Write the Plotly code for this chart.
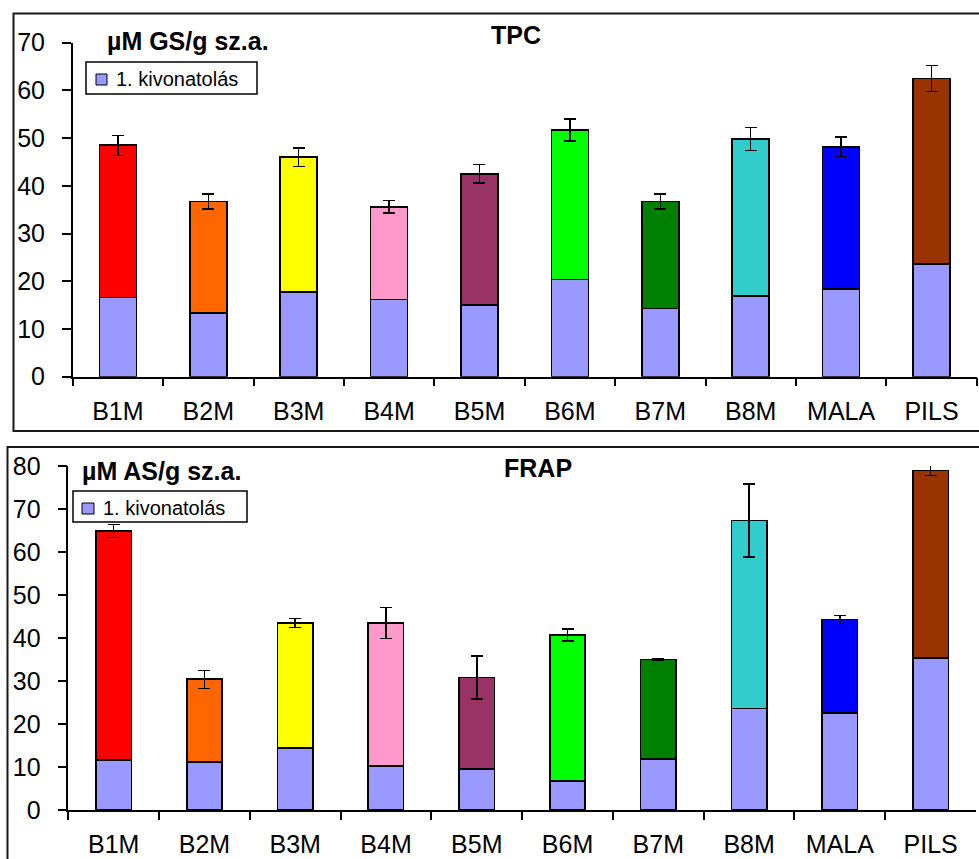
import plotly.graph_objects as go

categories = ["B1M", "B2M", "B3M", "B4M", "B5M", "B6M", "B7M", "B8M", "MALA", "PILS"]
top_colors = ["#FF0000", "#FF6600", "#FFFF00", "#FF99CC", "#993366",
              "#00FF00", "#008000", "#33CCCC", "#0000FF", "#993300"]
base_color = "#9999FF"

# TPC (µM GS/g sz.a.)
tpc_first = [16.6, 13.4, 17.8, 16.2, 15.0, 20.4, 14.3, 16.9, 18.4, 23.6]
tpc_second = [31.9, 23.3, 28.2, 19.4, 27.5, 31.3, 22.4, 32.9, 29.8, 38.9]
tpc_err = [2.1, 1.6, 1.9, 1.3, 1.95, 2.3, 1.6, 2.4, 2.0, 2.7]

# FRAP (µM AS/g sz.a.)
frap_first = [11.6, 11.2, 14.4, 10.2, 9.5, 6.7, 11.9, 23.6, 22.6, 35.3]
frap_second = [53.3, 19.2, 29.1, 33.3, 21.3, 34.0, 23.1, 43.7, 21.7, 43.7]
frap_err = [1.55, 2.1, 1.05, 3.6, 5.0, 1.4, 0.2, 8.5, 0.9, 1.25]

legend_label = "1. kivonatolás"

W, H = 979, 859
FONT = "Liberation Sans, Arial, sans-serif"


def px(x):
    return x / W


def py(y):
    return 1 - y / H


fig = go.Figure()

line = dict(color="black", width=1.6)

# Top panel
fig.add_trace(go.Bar(x=categories, y=tpc_first, name=legend_label, width=0.41,
                     marker=dict(color=base_color, line=line),
                     xaxis="x", yaxis="y", showlegend=False))
fig.add_trace(go.Bar(x=categories, y=tpc_second, name="2", width=0.41,
                     marker=dict(color=top_colors, line=line),
                     error_y=dict(type="data", array=tpc_err, visible=True,
                                  color="black", thickness=1.5, width=6),
                     xaxis="x", yaxis="y", showlegend=False))

# Bottom panel
fig.add_trace(go.Bar(x=categories, y=frap_first, name=legend_label, width=0.39,
                     marker=dict(color=base_color, line=line),
                     xaxis="x2", yaxis="y2", showlegend=False))
fig.add_trace(go.Bar(x=categories, y=frap_second, name="2", width=0.39,
                     marker=dict(color=top_colors, line=line),
                     error_y=dict(type="data", array=frap_err, visible=True,
                                  color="black", thickness=1.5, width=6),
                     xaxis="x2", yaxis="y2", showlegend=False))

tick_font = dict(family=FONT, size=25, color="black")

xcommon = dict(type="category", showline=True, linecolor="black", linewidth=1.5,
               ticks="outside", tickson="boundaries", ticklen=8, tickcolor="black",
               tickwidth=1.5, tickfont=tick_font, showgrid=False, zeroline=False,
               automargin=False)
ycommon = dict(showline=True, linecolor="black", linewidth=1.5, ticks="outside",
               ticklen=9, tickcolor="black", tickwidth=1.5, tickfont=tick_font,
               showgrid=False, zeroline=False, dtick=10, ticklabelstandoff=12,
               automargin=False)

fig.update_layout(
    template="none",
    width=W, height=H, autosize=False,
    margin=dict(l=0, r=0, t=0, b=0, pad=0),
    paper_bgcolor="white", plot_bgcolor="white",
    barmode="stack",
    showlegend=False,
    font=dict(family=FONT, color="black"),
    xaxis=dict(domain=[px(72.7), px(976.7)], anchor="y", ticklabelstandoff=12, **xcommon),
    yaxis=dict(domain=[py(376.7), py(42.7)], anchor="x", range=[0, 70], **ycommon),
    xaxis2=dict(domain=[px(68.3), px(976)], anchor="y2", ticklabelstandoff=11, **xcommon),
    yaxis2=dict(domain=[py(810), py(466)], anchor="x2", range=[0, 80], **ycommon),
)

title_font = dict(family=FONT, size=25, color="black")
fig.add_annotation(text="<b>µM GS/g sz.a.</b>", x=px(105), y=py(41), xref="paper", yref="paper",
                   xanchor="left", yanchor="middle", showarrow=False, font=title_font)
fig.add_annotation(text="<b>TPC</b>", x=px(515.5), y=py(35), xref="paper", yref="paper",
                   xanchor="center", yanchor="middle", showarrow=False, font=title_font)
fig.add_annotation(text="<b>µM AS/g sz.a.</b>", x=px(80), y=py(471), xref="paper", yref="paper",
                   xanchor="left", yanchor="middle", showarrow=False, font=title_font)
fig.add_annotation(text="<b>FRAP</b>", x=px(537.5), y=py(468), xref="paper", yref="paper",
                   xanchor="center", yanchor="middle", showarrow=False, font=title_font)

# Legends (one per panel)
legend_font = dict(family=FONT, size=20, color="black")
for (bx0, by0, bx1, by1, sx0, sy0, sx1, sy1, tx, ty) in [
        (86, 62, 257, 94, 96, 74, 107, 85, 114, 79),
        (73, 491, 247, 522, 82, 503, 94, 514, 101, 508)]:
    fig.add_shape(type="rect", xref="paper", yref="paper",
                  x0=px(bx0), x1=px(bx1), y0=py(by1), y1=py(by0),
                  line=dict(color="black", width=1.5), fillcolor="white")
    fig.add_shape(type="rect", xref="paper", yref="paper",
                  x0=px(sx0), x1=px(sx1), y0=py(sy1), y1=py(sy0),
                  line=dict(color="black", width=1), fillcolor=base_color)
    fig.add_annotation(text=legend_label, x=px(tx), y=py(ty), xref="paper", yref="paper",
                       xanchor="left", yanchor="middle", showarrow=False, font=legend_font)

box_line = dict(color="#1a1a1a", width=2)
fig.add_shape(type="rect", xref="paper", yref="paper",
              x0=px(13.5), x1=px(990), y0=py(431), y1=py(13.5), line=box_line,
              fillcolor="rgba(0,0,0,0)", layer="below")
fig.add_shape(type="rect", xref="paper", yref="paper",
              x0=px(7.5), x1=px(990), y0=py(880), y1=py(447), line=box_line,
              fillcolor="rgba(0,0,0,0)", layer="below")

fig.write_html("out.html", config={"displayModeBar": False},
               post_script="document.body.style.margin='0';document.body.style.overflow='hidden';")
